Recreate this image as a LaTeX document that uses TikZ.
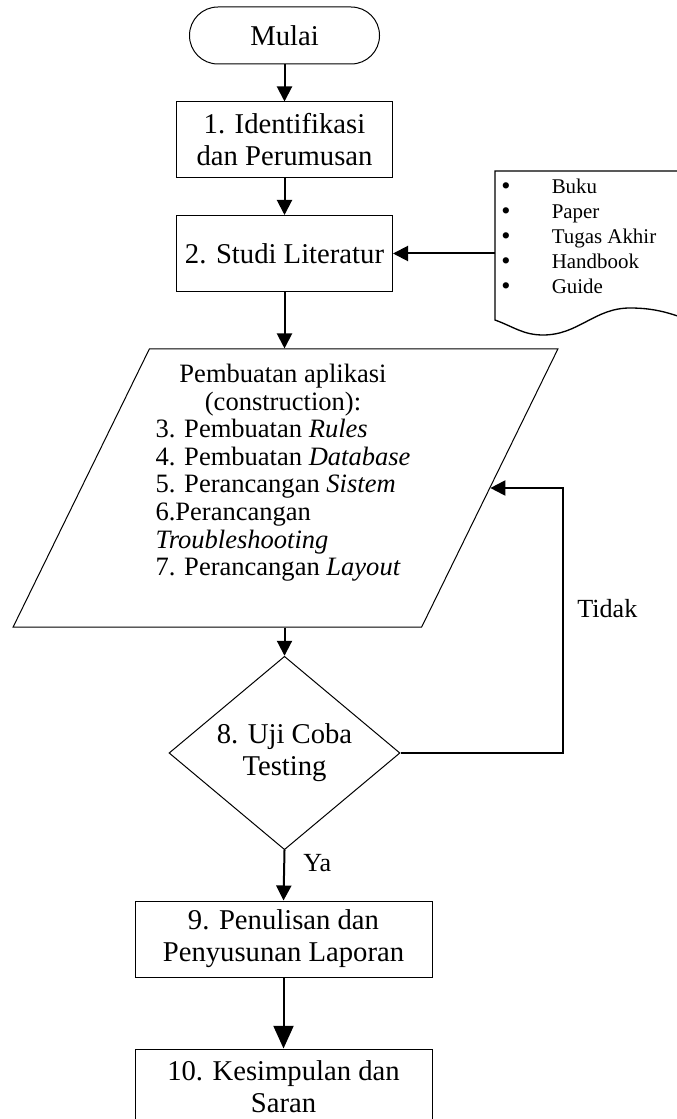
\documentclass[tikz,border=0pt]{standalone}
\usepackage{fontspec}
\setmainfont{Liberation Serif}
\usetikzlibrary{arrows.meta,positioning,shapes.geometric}

\begin{document}
\begin{tikzpicture}[
  x=0.75pt, y=-0.75pt,
  base/.style={draw, line width=0.75pt, align=center, inner sep=0pt, font={\fontsize{21.5}{24}\selectfont}},
  terminal/.style={base, rounded corners=21.3pt, minimum width=142.5pt, minimum height=42.75pt},
  process/.style={base, minimum width=162pt, minimum height=57pt},
  wideprocess/.style={base, minimum width=222.75pt, minimum height=57pt},
  decision/.style={base, diamond, minimum width=173.25pt, minimum height=103.5pt},
  inout/.style={draw, line width=0.75pt, shape=trapezium, trapezium left angle=63.43, trapezium right angle=116.57,
    trapezium stretches, minimum width=408.75pt, minimum height=208.5pt, inner sep=2pt},
  steps/.style={inner sep=0pt, font={\fontsize{19.9}{20.7}\selectfont}},
  reflist/.style={inner sep=0pt, anchor=north west, font={\fontsize{15.7}{18.75}\selectfont}},
  answer/.style={inner sep=0pt, anchor=west, font={\fontsize{19.6}{22}\selectfont}},
  arrow/.style={-{Triangle[length=11.25pt, width=11.25pt]}, line width=1.5pt},
  bigarrow/.style={-{Triangle[length=17pt, width=15pt]}, line width=1.5pt}
]
\useasboundingbox (0,0) rectangle (677,1119);
\clip (0,0) rectangle (677,1119);

\newcommand{\dotmark}{\raisebox{-0.5pt}{\scalebox{1.25}{\textbullet}}}

\node[terminal] (start) at (284.5,35.5) {Mulai};
\node[process] (ident) at (284.5,140) {1. Identifikasi\\dan Perumusan};
\node[process] (study) at (284.5,253.5) {2. Studi Literatur};

\draw[line width=1pt] (700,171) -- (495,171) -- (495,320)
  to[out=-20, in=180] (543,335) to[out=0, in=180] (630,308) to[out=0, in=160] (700,324);
\coordinate (docin) at (495,253.5);
\node[reflist] (refs) at (501,176)
  {\begin{tabular}{@{}l@{\hspace{31pt}}l@{}}
   \dotmark & Buku\\
   \dotmark & Paper\\
   \dotmark & Tugas Akhir\\
   \dotmark & Handbook\\
   \dotmark & Guide
   \end{tabular}};

\node[inout] (build) at (285.5,488) {};
\node[steps] (buildtxt) at (283,473.5)
  {\begin{tabular}{@{}l@{}}
   \multicolumn{1}{@{}c@{}}{Pembuatan aplikasi}\\
   \multicolumn{1}{@{}c@{}}{(construction):}\\
   3. Pembuatan \textit{Rules}\\
   4. Pembuatan \textit{Database}\\
   5. Perancangan \textit{Sistem}\\
   6.Perancangan\\
   \textit{Troubleshooting}\\
   7. Perancangan \textit{Layout}
   \end{tabular}};

\node[decision] (test) at (284.5,753) {8. Uji Coba\\Testing};
\node[wideprocess] (report) at (283.5,939) {9. Penulisan dan\\Penyusunan Laporan};
\node[wideprocess] (concl) at (283.5,1087) {10. Kesimpulan dan\\Saran};

\node[answer] (no) at (577,609) {Tidak};
\node[answer] (yes) at (303,863) {Ya};

\draw[arrow] (start) -- (ident);
\draw[arrow] (ident) -- (study);
\draw[arrow] (docin) -- (study.east);
\draw[arrow] (study.south) -- (study.south |- build.north);
\draw[arrow] (test.north |- build.south) -- (test.north);
\draw[arrow] (test.east) -- ++(162,0) |- (build.east);
\draw[arrow] (test.south) -- (report.north);
\draw[bigarrow] (report) -- (concl);

\end{tikzpicture}
\end{document}
